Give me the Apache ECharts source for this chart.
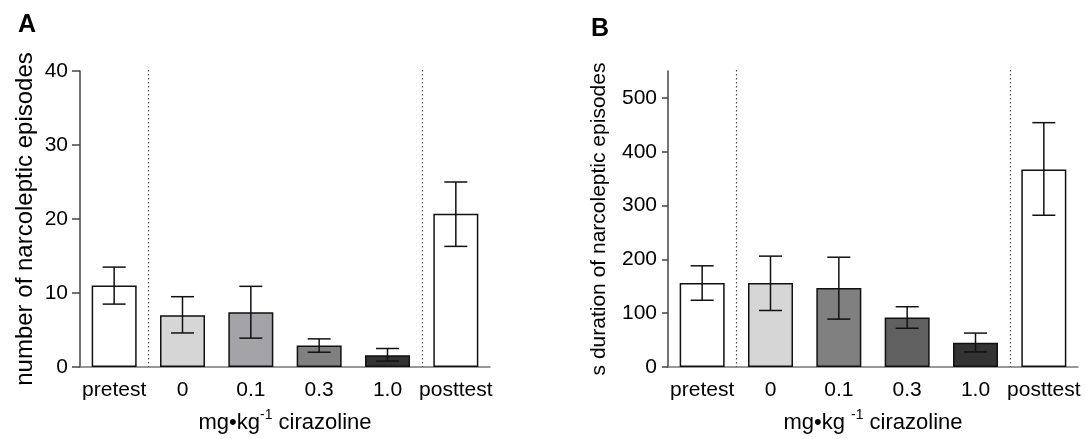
<!DOCTYPE html>
<html>
<head>
<meta charset="utf-8">
<script src="https://cdn.jsdelivr.net/npm/echarts@6/dist/echarts.min.js"></script>
<style>
  html, body { margin: 0; padding: 0; background: #fff; }
  #chart { width: 1086px; height: 439px; }
</style>
</head>
<body>
<div id="chart"></div>
<script>
// categories (same for both panels)
const categories = ["pretest", "0", "0.1", "0.3", "1.0", "posttest"];
// dotted separators sit after these categories
const separatorsAfter = [0, 4];

// panel A: number of narcoleptic episodes
const episodesMean = [11.0, 7.0, 7.4, 2.9, 1.6, 20.7];
const episodesLow = [8.5, 4.6, 3.9, 2.0, 0.8, 16.3];
const episodesHigh = [13.5, 9.5, 10.9, 3.8, 2.5, 25.0];
const episodesTicks = [0, 10, 20, 30, 40];

// panel B: duration of narcoleptic episodes (s)
const durationMean = [156, 156, 147, 92, 45, 367];
const durationLow = [124, 105, 89, 72, 28, 282];
const durationHigh = [188, 206, 204, 112, 63, 454];
const durationTicks = [0, 100, 200, 300, 400, 500];

const colorsA = ["#ffffff", "#d6d6d6", "#a3a3a8", "#808080", "#333333", "#ffffff"];
const colorsB = ["#ffffff", "#d6d6d6", "#808080", "#606060", "#333333", "#ffffff"];

const FONT = "'Liberation Sans', Arial, sans-serif";

const chart = echarts.init(document.getElementById("chart"));

function barData(values, colors) {
  return values.map((v, i) => ({
    value: v,
    itemStyle: { color: colors[i] }
  }));
}

function errData(low, high) {
  return low.map((l, i) => [i, l, high[i]]);
}

// whisker with caps
function renderErr(params, api) {
  const x = api.value(0);
  const lo = api.coord([x, api.value(1)]);
  const hi = api.coord([x, api.value(2)]);
  const half = 11.5;
  const style = { stroke: "#111", lineWidth: 1.5 };
  return {
    type: "group",
    children: [
      { type: "line", shape: { x1: lo[0], y1: lo[1], x2: hi[0], y2: hi[1] }, style },
      { type: "line", shape: { x1: hi[0] - half, y1: hi[1], x2: hi[0] + half, y2: hi[1] }, style },
      { type: "line", shape: { x1: lo[0] - half, y1: lo[1], x2: lo[0] + half, y2: lo[1] }, style }
    ]
  };
}

// dotted vertical line on the boundary between two categories
function renderSep(params, api) {
  const i = api.value(0);
  const a = api.coord([i, 0]);
  const b = api.coord([i + 1, 0]);
  const x = Math.round((a[0] + b[0]) / 2) + 0.5;
  const cs = params.coordSys;
  return {
    type: "line",
    shape: { x1: x, y1: cs.y - 1, x2: x, y2: cs.y + cs.height },
    style: { stroke: "#555", lineWidth: 1.2, lineDash: [1.5, 2.5] },
    silent: true
  };
}

const xName = (space) => "{t|mg•kg" + space + "}{s|-1}{t| cirazoline}";

function xAxisFor(gridIndex, space) {
  return {
    type: "category",
    gridIndex: gridIndex,
    data: categories,
    name: xName(space),
    nameLocation: "middle",
    nameGap: 41,
    nameTextStyle: {
      rich: {
        t: { fontFamily: FONT, fontSize: 22, color: "#000", lineHeight: 26, verticalAlign: "bottom" },
        s: { fontFamily: FONT, fontSize: 14, color: "#000", lineHeight: 26, verticalAlign: "top" }
      }
    },
    axisLine: { lineStyle: { color: "#777", width: 1.5 } },
    axisTick: { show: false },
    axisLabel: { interval: 0, fontFamily: FONT, fontSize: 21, color: "#000", margin: 13 },
    splitLine: { show: false }
  };
}

chart.setOption({
  animation: false,
  title: [
    { text: "A", left: 13, top: 8, textStyle: { fontFamily: FONT, fontSize: 25, fontWeight: "bold", color: "#000" } },
    { text: "B", left: 586, top: 12, textStyle: { fontFamily: FONT, fontSize: 25, fontWeight: "bold", color: "#000" } }
  ],
  grid: [
    { left: 80, width: 410, top: 71, bottom: 71 },
    { left: 668, width: 410, top: 71, bottom: 71 }
  ],
  xAxis: [xAxisFor(0, ""), xAxisFor(1, " ")],
  yAxis: [
    {
      type: "value",
      gridIndex: 0,
      min: 0,
      max: 40,
      interval: 10,
      name: "number of narcoleptic episodes",
      nameLocation: "middle",
      nameGap: 43,
      nameTextStyle: { fontFamily: FONT, fontSize: 24, color: "#000" },
      axisLine: { show: true, lineStyle: { color: "#444", width: 1.5 } },
      axisTick: { show: true, length: 8, lineStyle: { color: "#444", width: 1.5 }, customValues: episodesTicks },
      axisLabel: { fontFamily: FONT, fontSize: 21, color: "#000", margin: 12, customValues: episodesTicks },
      splitLine: { show: false }
    },
    {
      type: "value",
      gridIndex: 1,
      min: 0,
      max: 550,
      interval: 100,
      name: "s duration of narcoleptic episodes",
      nameLocation: "middle",
      nameGap: 58,
      nameTextStyle: { fontFamily: FONT, fontSize: 21, color: "#000" },
      axisLine: { show: true, lineStyle: { color: "#444", width: 1.5 } },
      axisTick: { show: true, length: 6, lineStyle: { color: "#444", width: 1.5 }, customValues: durationTicks },
      axisLabel: { fontFamily: FONT, fontSize: 21, color: "#000", margin: 11, customValues: durationTicks },
      splitLine: { show: false }
    }
  ],
  series: [
    {
      type: "custom",
      xAxisIndex: 0,
      yAxisIndex: 0,
      renderItem: renderSep,
      data: separatorsAfter.map((i) => [i]),
      z: 1
    },
    {
      type: "bar",
      xAxisIndex: 0,
      yAxisIndex: 0,
      barWidth: 45,
      data: barData(episodesMean, colorsA),
      itemStyle: { borderColor: "#111", borderWidth: 1.5 }
    },
    {
      type: "custom",
      xAxisIndex: 0,
      yAxisIndex: 0,
      renderItem: renderErr,
      data: errData(episodesLow, episodesHigh),
      z: 5
    },
    {
      type: "custom",
      xAxisIndex: 1,
      yAxisIndex: 1,
      renderItem: renderSep,
      data: separatorsAfter.map((i) => [i]),
      z: 1
    },
    {
      type: "bar",
      xAxisIndex: 1,
      yAxisIndex: 1,
      barWidth: 45,
      data: barData(durationMean, colorsB),
      itemStyle: { borderColor: "#111", borderWidth: 1.5 }
    },
    {
      type: "custom",
      xAxisIndex: 1,
      yAxisIndex: 1,
      renderItem: renderErr,
      data: errData(durationLow, durationHigh),
      z: 5
    }
  ]
});
</script>
</body>
</html>
